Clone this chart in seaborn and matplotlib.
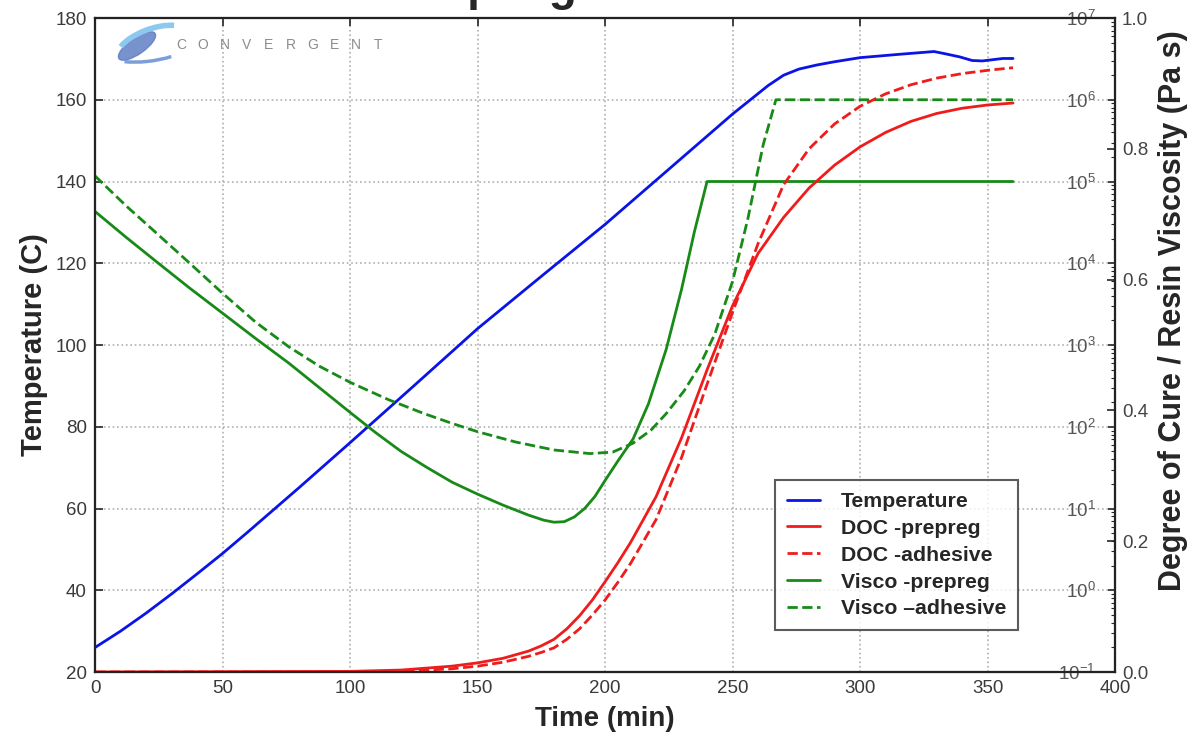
import numpy as np
import matplotlib
matplotlib.use("Agg")
import matplotlib.pyplot as plt
import seaborn as sns
from matplotlib.patches import Ellipse, Arc
from matplotlib.transforms import IdentityTransform

# ---- data ----
# temperature (C) vs time (min)
temp_time = [0, 10, 20, 30, 40, 50, 60, 70, 80, 90, 100, 125, 150, 175, 200, 225, 250,
             258, 264, 270, 276, 283, 290, 300, 315, 329, 333, 339, 344, 348, 352, 356, 360]
temp_vals = [26, 30, 34.4, 39.1, 44, 49, 54.3, 59.7, 65.1, 70.6, 76.1, 90, 104, 116.8,
             129.5, 143, 156.5, 160.5, 163.5, 166, 167.5, 168.5, 169.3, 170.3, 171.1, 171.8,
             171.3, 170.5, 169.6, 169.5, 169.8, 170.1, 170.1]

# degree of cure
doc_time = [0, 100, 120, 140, 150, 160, 170, 175, 180, 185, 190, 195, 200, 205, 210, 220,
            230, 240, 250, 260, 270, 280, 290, 300, 310, 320, 330, 340, 350, 360]
doc_prepreg = [0, 0.001, 0.003, 0.009, 0.014, 0.021, 0.032, 0.040, 0.050, 0.066, 0.086,
               0.110, 0.138, 0.167, 0.198, 0.268, 0.358, 0.462, 0.56, 0.64, 0.695, 0.74,
               0.775, 0.803, 0.825, 0.842, 0.854, 0.862, 0.867, 0.87]
doc_adhesive = [0, 0.0, 0.001, 0.005, 0.009, 0.015, 0.024, 0.030, 0.037, 0.050, 0.066,
                0.087, 0.11, 0.137, 0.166, 0.233, 0.328, 0.44, 0.55, 0.655, 0.745, 0.80,
                0.838, 0.865, 0.884, 0.898, 0.908, 0.915, 0.92, 0.924]

# resin viscosity (Pa s)
visc_pre_time = [0, 12, 24, 37, 50, 63, 76, 88, 100, 110, 120, 130, 140, 150, 160, 170,
                 176, 180, 184, 188, 192, 196, 200, 205, 211, 217, 224, 230, 235, 240, 360]
visc_prepreg = [4.3e4, 2.1e4, 1.05e4, 5.0e3, 2.45e3, 1.2e3, 600, 300, 150, 85, 50, 32,
                21, 15, 11, 8.3, 7.2, 6.8, 6.9, 7.9, 10, 14, 22, 38, 71, 190, 890, 4.8e3,
                2.4e4, 1.0e5, 1.0e5]
visc_adh_time = [0, 12, 24, 35, 50, 63, 76, 88, 100, 115, 129, 140, 150, 165, 180, 194,
                 203, 211, 218, 224, 231, 237, 243, 250, 256, 262, 267, 360]
visc_adhesive = [1.17e5, 5.1e4, 2.35e4, 1.15e4, 4.3e3, 1.9e3, 950, 550, 350, 215, 145,
                 110, 87, 65, 52, 47, 49, 63, 91, 145, 275, 550, 1.35e3, 6.0e3, 3.5e4,
                 2.8e5, 1.0e6, 1.0e6]

x_ticks = [0, 50, 100, 150, 200, 250, 300, 350, 400]
temp_ticks = [20, 40, 60, 80, 100, 120, 140, 160, 180]
visc_ticks = [1e-1, 1e0, 1e1, 1e2, 1e3, 1e4, 1e5, 1e6, 1e7]
doc_ticks = [0.0, 0.2, 0.4, 0.6, 0.8, 1.0]

BLUE, RED, GREEN = "#0a14e6", "#f01c1c", "#178a17"

sns.set_style("white")
plt.rcParams["font.family"] = ["Liberation Sans", "DejaVu Sans"]
plt.rcParams["mathtext.fontset"] = "custom"
plt.rcParams["mathtext.rm"] = "Liberation Sans"

fig = plt.figure(figsize=(11.88, 7.38), dpi=100)
ax = fig.add_axes([0.080, 0.0894, 0.8586, 0.8862])
ax2 = ax.twinx()
ax3 = ax.twinx()

ax2.set_yscale("log")

sns.lineplot(x=temp_time, y=temp_vals, ax=ax, color=BLUE, lw=2, label="Temperature", legend=False)
sns.lineplot(x=visc_pre_time, y=visc_prepreg, ax=ax2, color=GREEN, lw=2, label="Visco -prepreg", legend=False)
sns.lineplot(x=visc_adh_time, y=visc_adhesive, ax=ax2, color=GREEN, lw=2, linestyle="--",
             label="Visco \u2013adhesive", legend=False)
sns.lineplot(x=doc_time, y=doc_prepreg, ax=ax3, color=RED, lw=2, label="DOC -prepreg", legend=False)
sns.lineplot(x=doc_time, y=doc_adhesive, ax=ax3, color=RED, lw=2, linestyle="--",
             label="DOC -adhesive", legend=False)

# primary axis
ax.set_xlim(0, 400)
ax.set_ylim(20, 180)
ax.set_xticks(x_ticks)
ax.set_yticks(temp_ticks)
ax.grid(True, linestyle=":", color="#b0b0b0", lw=1.2)
ax.tick_params(direction="in", top=True, length=6, width=1.2, labelsize=13.5,
               labelcolor="#3a3a3a", pad=6)
ax.set_xlabel("Time (min)", fontsize=20, fontweight="bold", labelpad=6)
ax.set_ylabel("Temperature (C)", fontsize=21, fontweight="bold", labelpad=5)

# viscosity axis, labels drawn inside the frame
ax2.set_ylim(1e-1, 1e7)
ax2.set_yticks(visc_ticks)
ax2.tick_params(axis="y", which="major", direction="in", length=5, width=1.2, pad=-14,
                labelsize=13.5, labelcolor="#555555")
ax2.tick_params(axis="y", which="minor", direction="in", length=3, width=0.8)
for t in ax2.yaxis.get_major_ticks():
    t.label2.set_horizontalalignment("right")
ax2.set_ylabel("")

# degree of cure axis
ax3.set_ylim(0, 1)
ax3.set_yticks(doc_ticks)
ax3.set_yticklabels([f"{v:.1f}" for v in doc_ticks])
ax3.tick_params(axis="y", direction="in", length=6, width=1.2, pad=5, labelsize=13.5,
                labelcolor="#444444")
ax3.set_ylabel("Degree of Cure / Resin Viscosity (Pa s)", fontsize=22, fontweight="bold")
ax3.yaxis.set_label_coords(1.042, 0.553)

for a in (ax, ax2, ax3):
    for s in a.spines.values():
        s.set_linewidth(1.5)
        s.set_color("#222222")

# legend
lines = {l.get_label(): l for a in (ax, ax2, ax3) for l in a.get_lines()}
order = ["Temperature", "DOC -prepreg", "DOC -adhesive", "Visco -prepreg", "Visco \u2013adhesive"]
leg = ax3.legend([lines[k] for k in order], order, loc="lower right",
                 bbox_to_anchor=(0.905, 0.064), frameon=True, fancybox=False,
                 prop=dict(weight="bold", size=15.3), handlelength=1.55, handletextpad=1.0,
                 borderpad=0.55, labelspacing=0.37, borderaxespad=0)
leg.get_frame().set_edgecolor("#333333")
leg.get_frame().set_linewidth(1.5)

# cut-off title at the very top
fig.text(378 / 1188, 1.0, "Coupling", fontsize=33, fontweight="bold", ha="left", va="baseline")

# CONVERGENT logo
H = 738
fig.add_artist(Ellipse((137, H - 46), 44, 16, angle=35, color="#5f7fc4", alpha=0.85,
                       transform=IdentityTransform()))
fig.add_artist(Arc((152, H - 44), 72, 30, angle=20, theta1=20, theta2=165, lw=4,
                   color="#8cc8f0", transform=IdentityTransform()))
fig.add_artist(Arc((150, H - 48), 84, 26, angle=8, theta1=200, theta2=330, lw=2.5,
                   color="#7d9fd8", transform=IdentityTransform()))
for i, ch in enumerate("CONVERGENT"):
    fig.text((181 + i * 21.9) / 1188, 1 - 45 / 738, ch, color="#8c8c8c", fontsize=10,
             ha="center", va="center")

fig.savefig("out.png", dpi=100)
